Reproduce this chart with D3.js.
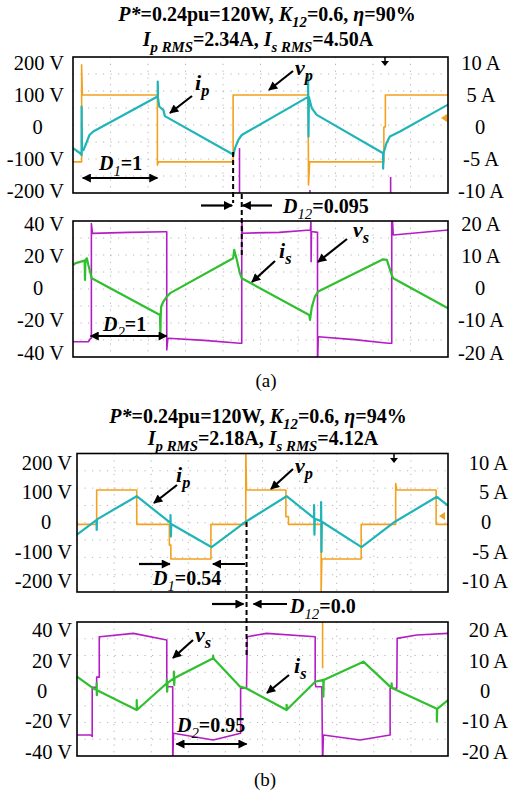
<!DOCTYPE html>
<html>
<head>
<meta charset="utf-8">
<script src="https://cdn.jsdelivr.net/npm/d3@7"></script>
<style>
body { margin: 0; background: #fff; }
text { font-family: "Liberation Serif", "Times New Roman", serif; fill: #000; }
</style>
</head>
<body>
<svg width="509" height="796"></svg>
<script>
// ---- data (time in scope divisions 0..10, volts / amps) ----
var voltTicksP = [200, 100, 0, -100, -200];
var ampTicksP = [10, 5, 0, -5, -10];
var voltTicksS = [40, 20, 0, -20, -40];
var ampTicksS = [20, 10, 0, -10, -20];

// (a) primary side
var vpA = [[0,-109],[0.23,-109],[0.23,194],[0.25,100],[2.25,100],[2.25,-119],[2.28,-109],[4.27,-109],[4.27,100],
  [6.27,100],[6.28,-181],[6.31,-109],[8.29,-109],[8.29,0],[8.33,0],[8.33,100],[10,100]];
var ipA = [[0,-3.3],[0.19,-4.1],[0.23,-4.4],[0.23,3.2],[0.24,-3.6],[0.28,-3.6],[0.44,-1.25],[0.54,-0.7],[2.23,4.7],
  [2.26,4.7],[2.26,7.1],[2.265,4.6],[2.30,3.2],[2.41,2.65],[2.45,1.7],[4.27,-4.3],[4.275,-4.4],[4.32,-3.3],[4.41,-2.0],
  [4.50,-1.25],[6.27,4.7],[6.27,7.9],[6.28,-1.5],[6.29,4.7],[6.37,2.9],[6.50,1.9],[8.27,-4.1],[8.27,-6.5],[8.28,-4.1],
  [8.36,-2.5],[8.45,-1.5],[8.72,-0.7],[10,3.5]];
var magentaA = [[4.44,-66,-260],[8.47,-156,-260],[6.32,-197,-260]]; // [t, from, to] in volts
// (a) secondary side
var vsA = [[0,-33.3],[0.41,-33.3],[0.47,-31.2],[0.49,-31.2],[0.49,40],[0.52,33.9],[1.5,34.5],[2.45,34.9],[2.50,34.9],
  [2.50,-38.4],[2.53,-31.2],[3.5,-32.5],[4.45,-34.3],[4.50,-34.3],[4.50,45],[4.52,34],[5.5,34.5],[6.33,36],[6.345,41],
  [6.35,16.3],[6.36,35],[6.52,34.5],[6.52,-50],[6.54,-30.2],[7.5,-32],[8.41,-34.3],[8.50,-34.3],[8.50,50],[8.54,32.9],[10,36]];
var isA = [[0,7.1],[0.07,7.7],[0.31,8.5],[0.32,2.5],[0.33,8.7],[0.37,9.2],[0.41,7.1],[0.50,3.0],[2.32,-8.4],[2.33,-14],
  [2.34,-8.4],[2.35,-5.8],[2.41,-4.2],[2.50,-2.7],[2.59,-1.6],[4.27,9.2],[4.30,11.8],[4.37,8.7],[4.45,4.6],[4.50,3.0],
  [6.30,-8.4],[6.32,-9.9],[6.37,-5.8],[6.45,-2.7],[6.54,-1.1],[8.27,8.9],[8.37,8.7],[8.50,4.0],[8.54,3.0],[10,-6.3]];

// (b) primary side
var vpB = [[0,-9],[0.53,-9],[0.53,107],[1.61,107],[1.61,-9],[2.49,-9],[2.49,-79],[2.53,-79],[2.53,-126],[3.61,-126],
  [3.61,-9],[4.55,-9],[4.55,240],[4.57,107],[5.63,107],[5.63,17],[5.70,17],[5.70,-9],[6.58,-9],[6.58,-240],[6.60,-126],
  [7.66,-126],[7.66,-9],[8.59,-9],[8.59,129],[8.62,107],[9.68,107],[9.68,-9],[10,-9]];
var ipB = [[0,-2.2],[0.53,0.3],[0.53,-1.4],[0.54,0.4],[1.61,4.3],[2.52,-0.2],[2.52,1.1],[2.53,-2.5],[2.54,-0.4],
  [3.63,-4.3],[4.55,0],[5.65,4.3],[6.39,0.6],[6.39,2.8],[6.40,-2.2],[6.41,0.5],[6.58,0.1],[6.58,3.3],[6.59,-5.1],
  [6.60,0],[7.67,-4.3],[8.57,0],[9.70,4.2],[10,2.7]];
// (b) secondary side
var vsB = [[0,-29],[0.37,-29],[0.41,-30],[0.41,2.3],[0.53,2.3],[0.53,9],[0.60,9],[0.60,35.6],[0.62,35.6],[1.52,37.8],
  [2.42,33.4],[2.42,5],[2.44,2.7],[2.58,2.7],[2.58,-50],[2.60,-27.9],[3.67,-32.3],[4.41,-27.9],[4.41,1.7],[4.57,1.7],
  [4.59,35.6],[5.11,37.8],[6.42,35.6],[6.42,5],[6.44,2.7],[6.60,2.7],[6.62,-50],[6.64,-29],[7.63,-32.3],[8.44,-29],
  [8.44,1.7],[8.62,1.7],[8.63,34.5],[9.16,36.7],[10,37.8]];
var isB = [[0,4.7],[0.44,0.8],[0.53,0.3],[0.53,2.5],[0.535,-1.4],[0.54,0.2],[1.61,-6.3],[1.61,-3.0],[1.615,-6.3],
  [2.42,2.5],[2.42,3.6],[2.43,-0.3],[2.44,2.6],[2.61,4.1],[2.61,6.3],[2.62,1.9],[2.63,4.2],[3.67,10.7],[3.67,11.6],
  [3.68,10.6],[4.39,1.4],[4.57,0.8],[5.65,-6.3],[5.65,-4.6],[5.655,-6.2],[6.42,3.0],[6.64,3.6],[6.64,-1.9],[6.65,3.6],
  [7.72,9.6],[8.44,1.4],[8.48,1.0],[8.48,2.5],[8.49,0.9],[9.70,-5.9],[9.70,-10.1],[9.71,-5.9],[10,-3]];
var orangeB = [[6.62,60,14.8]];

var orange = '#f4a11d', cyan = '#1fb5b8', magenta = '#b41dc6', green = '#2fbf2f';

var svg = d3.select('svg');
var defs = svg.append('defs');
defs.append('marker').attr('id', 'ah')
  .attr('viewBox', '0 0 10 10').attr('refX', 9).attr('refY', 5)
  .attr('markerWidth', 12).attr('markerHeight', 9)
  .attr('markerUnits', 'userSpaceOnUse').attr('orient', 'auto-start-reverse')
  .append('path').attr('d', 'M0,0L10,5L0,10z').attr('fill', '#000');

var xA = d3.scaleLinear().domain([0, 10]).range([73, 448]);
var xB = d3.scaleLinear().domain([0, 10]).range([77, 448]);

function rich(x, y, parts, size, anchor) {
  var t = svg.append('text').attr('x', x).attr('y', y)
    .attr('font-size', size).attr('text-anchor', anchor || 'start');
  var shift = 0;
  parts.forEach(function(p) {
    var s = t.append('tspan').text(p[0]);
    var st = p[1];
    if (st.indexOf('b') >= 0) s.attr('font-weight', 'bold');
    if (st.indexOf('i') >= 0) s.attr('font-style', 'italic');
    var sub = st.indexOf('s') >= 0;
    var want = sub ? Math.round(size * 0.28) : 0;
    if (want !== shift) { s.attr('dy', want - shift); shift = want; }
    if (sub) s.attr('font-size', size * 0.74);
  });
  return t;
}

function arrow(x1, y1, x2, y2, both) {
  var l = svg.append('line').attr('x1', x1).attr('y1', y1).attr('x2', x2).attr('y2', y2)
    .attr('stroke', '#000').attr('stroke-width', 2.2).attr('marker-end', 'url(#ah)');
  if (both) l.attr('marker-start', 'url(#ah)');
}

var scopes = [
  {id: 'a1', x: xA, top: 57, bottom: 193,
   v: d3.scaleLinear().domain([-200, 200]).range([191, 63]),
   a: d3.scaleLinear().domain([-10, 10]).range([191, 63]),
   vTicks: voltTicksP, aTicks: ampTicksP, left: 64, leftZero: 37.5, right: 481, rightAnchor: 'middle', rightZero: 480,
   glitch: [magentaA, magenta, 'v'],
   traces: [[vpA, 'v', orange, 1.6], [ipA, 'a', cyan, 2.2]]},
  {id: 'a2', x: xA, top: 221, bottom: 357,
   v: d3.scaleLinear().domain([-40, 40]).range([352.5, 223.5]),
   a: d3.scaleLinear().domain([-20, 20]).range([352.5, 223.5]),
   vTicks: voltTicksS, aTicks: ampTicksS, left: 64, leftZero: 38, right: 481, rightAnchor: 'middle', rightZero: 480,
   traces: [[vsA, 'v', magenta, 1.6], [isA, 'a', green, 2.2]]},
  {id: 'b1', x: xB, top: 453.5, bottom: 592,
   v: d3.scaleLinear().domain([-200, 200]).range([581, 462.4]),
   a: d3.scaleLinear().domain([-10, 10]).range([581, 462.4]),
   vTicks: voltTicksP, aTicks: ampTicksP, left: 72, leftZero: 46, right: 508, rightAnchor: 'end', rightZero: 486,
   traces: [[vpB, 'v', orange, 1.6], [ipB, 'a', cyan, 2.2]]},
  {id: 'b2', x: xB, top: 622, bottom: 756,
   v: d3.scaleLinear().domain([-40, 40]).range([751.7, 630]),
   a: d3.scaleLinear().domain([-20, 20]).range([751.7, 630]),
   vTicks: voltTicksS, aTicks: ampTicksS, left: 72, leftZero: 42, right: 508, rightAnchor: 'end', rightZero: 485,
   glitch: [orangeB, orange, 'v'],
   traces: [[vsB, 'v', magenta, 1.6], [isB, 'a', green, 2.2]]}
];

scopes.forEach(function(s) {
  var x0 = s.x.range()[0], x1 = s.x.range()[1];
  defs.append('clipPath').attr('id', 'clip-' + s.id)
    .append('rect').attr('x', x0).attr('y', s.top).attr('width', x1 - x0).attr('height', s.bottom - s.top);

  var g = svg.append('g');
  // dotted graticule: 10 x 8 divisions
  var hy = d3.scaleLinear().domain([0, 8]).range([s.top, s.bottom]);
  g.selectAll('.gx').data(d3.range(1, 10)).enter().append('line')
    .attr('x1', function(d) { return s.x(d); }).attr('x2', function(d) { return s.x(d); })
    .attr('y1', s.top).attr('y2', s.bottom)
    .attr('stroke', '#b5b5b5').attr('stroke-width', 1).attr('stroke-dasharray', '1.2,5.6');
  g.selectAll('.gy').data(d3.range(1, 8)).enter().append('line')
    .attr('y1', function(d) { return hy(d); }).attr('y2', function(d) { return hy(d); })
    .attr('x1', x0).attr('x2', x1)
    .attr('stroke', '#b5b5b5').attr('stroke-width', 1).attr('stroke-dasharray', '1.2,6.3');

  var plot = g.append('g').attr('clip-path', 'url(#clip-' + s.id + ')');
  if (s.glitch) {
    var gs = s[s.glitch[2]];
    plot.selectAll('.gl').data(s.glitch[0]).enter().append('line')
      .attr('x1', function(d) { return s.x(d[0]); }).attr('x2', function(d) { return s.x(d[0]); })
      .attr('y1', function(d) { return gs(d[1]); }).attr('y2', function(d) { return gs(d[2]); })
      .attr('stroke', s.glitch[1]).attr('stroke-width', 1.6);
  }
  s.traces.forEach(function(tr) {
    var ys = s[tr[1]];
    var line = d3.line().x(function(d) { return s.x(d[0]); }).y(function(d) { return ys(d[1]); });
    plot.append('path').datum(tr[0]).attr('d', line)
      .attr('fill', 'none').attr('stroke', tr[2]).attr('stroke-width', tr[3])
      .attr('stroke-linejoin', 'round');
  });

  g.append('rect').attr('x', x0).attr('y', s.top).attr('width', x1 - x0).attr('height', s.bottom - s.top)
    .attr('fill', 'none').attr('stroke', '#000').attr('stroke-width', 1.6);

  // tick labels
  g.selectAll('.lv').data(s.vTicks).enter().append('text')
    .attr('x', function(d) { return d === 0 ? s.leftZero : s.left; })
    .attr('y', function(d) { return s.v(d); }).attr('dy', '0.35em')
    .attr('text-anchor', function(d) { return d === 0 ? 'middle' : 'end'; })
    .attr('font-size', 20.5)
    .text(function(d) { return d === 0 ? '0' : d + ' V'; });
  g.selectAll('.la').data(s.aTicks).enter().append('text')
    .attr('x', function(d) { return d === 0 ? s.rightZero : s.right; })
    .attr('y', function(d) { return s.a(d); }).attr('dy', '0.35em')
    .attr('text-anchor', function(d) { return d === 0 ? 'middle' : s.rightAnchor; })
    .attr('font-size', 20.5)
    .text(function(d) { return d === 0 ? '0' : d + ' A'; });
});

// scope markers: trigger arrow and channel-1 ground marker
function trigMark(x, y) {
  svg.append('path').attr('d', 'M' + x + ',' + y + 'v5').attr('stroke', '#000').attr('stroke-width', 1.5);
  svg.append('path').attr('d', 'M' + (x - 4) + ',' + (y + 4) + 'h8l-4,5z').attr('fill', '#000');
}
function gndMark(x, y) {
  svg.append('path').attr('d', 'M' + (x - 4) + ',' + y + 'l6,-4v8z').attr('fill', orange);
}
trigMark(385, 57);
gndMark(445, scopes[0].v(28));
trigMark(394, 454);
gndMark(443, scopes[2].v(19));

// ---- titles ----
var bi = 'bi', b = 'b', bs = 'bis';
rich(267, 21, [['P*', bi], ['=0.24pu=120W, ', b], ['K', bi], ['12', bs], ['=0.6, ', b], ['\u03b7', bi], ['=90%', b]], 20, 'middle');
rich(258, 46, [['I', bi], ['p RMS', bs], ['=2.34A, ', b], ['I', bi], ['s RMS', bs], ['=4.50A', b]], 20, 'middle');
rich(258, 423, [['P*', bi], ['=0.24pu=120W, ', b], ['K', bi], ['12', bs], ['=0.6, ', b], ['\u03b7', bi], ['=94%', b]], 20, 'middle');
rich(263, 445, [['I', bi], ['p RMS', bs], ['=2.18A, ', b], ['I', bi], ['s RMS', bs], ['=4.12A', b]], 20, 'middle');

// ---- annotations (a) ----
rich(195, 90, [['i', bi], ['p', bs]], 22);
arrow(192, 96, 170, 113);
rich(295, 75, [['v', bi], ['p', bs]], 22);
arrow(293, 71, 269, 90);
rich(99, 170, [['D', bi], ['1', 'is'], ['=1', b]], 20);
arrow(xA(0.26), 178, xA(2.25), 178, true);
rich(279, 258, [['i', bi], ['s', bs]], 22);
arrow(275, 261, 252, 282);
rich(353, 237, [['v', bi], ['s', bs]], 22);
arrow(347, 239, 318, 262);
rich(103, 331, [['D', bi], ['2', 'is'], ['=1', b]], 20);
arrow(xA(0.47), 336, xA(2.50), 336, true);

var dash = function(x, y1, y2) {
  svg.append('line').attr('x1', x).attr('x2', x).attr('y1', y1).attr('y2', y2)
    .attr('stroke', '#000').attr('stroke-width', 2).attr('stroke-dasharray', '5,3');
};
dash(xA(4.27), 152, 203);
dash(xA(4.50), 194, 258);
arrow(201, 205.5, xA(4.27) - 1, 205.5);
arrow(272, 205.5, xA(4.50) + 1, 205.5);
rich(283, 213, [['D', bi], ['12', 'is'], ['=0.095', b]], 20);
svg.append('text').attr('x', 266).attr('y', 387).attr('text-anchor', 'middle').attr('font-size', 19).text('(a)');

// ---- annotations (b) ----
rich(176, 482, [['i', bi], ['p', bs]], 22);
arrow(177, 485, 154, 503);
rich(295, 473, [['v', bi], ['p', bs]], 22);
arrow(293, 469, 271, 489);
rich(153, 585, [['D', bi], ['1', 'is'], ['=0.54', b]], 20);
arrow(139, 564, xB(2.53) - 1, 564);
arrow(245, 564, xB(3.61) + 2, 564);
dash(xB(4.57), 522, 657);
arrow(212, 604, xB(4.57) - 3, 604);
arrow(287, 604, xB(4.57) + 7, 604);
rich(290, 613, [['D', bi], ['12', 'is'], ['=0.0', b]], 20);
rich(195, 642, [['v', bi], ['s', bs]], 22);
arrow(193, 640, 173, 658);
rich(294, 673, [['i', bi], ['s', bs]], 22);
arrow(289, 675, 267, 693);
rich(177, 732, [['D', bi], ['2', 'is'], ['=0.95', b]], 20);
arrow(xB(2.68), 744, xB(4.57), 744, true);
svg.append('text').attr('x', 265).attr('y', 786).attr('text-anchor', 'middle').attr('font-size', 19).text('(b)');
</script>
</body>
</html>
